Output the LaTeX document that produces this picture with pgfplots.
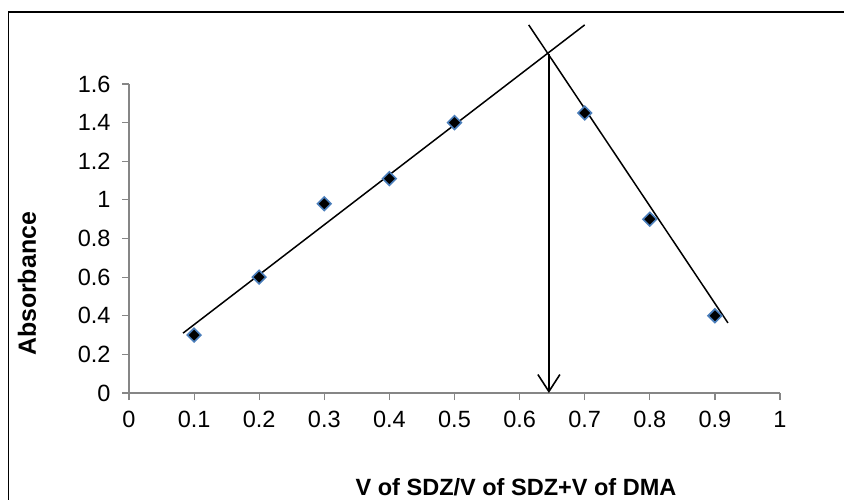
\documentclass[border=0pt]{standalone}
\usepackage{fontspec}
\setmainfont{Liberation Sans}
\usepackage{pgfplots}
\pgfplotsset{compat=1.18}
\usetikzlibrary{arrows.meta}
\definecolor{axgray}{HTML}{868686}
\definecolor{mkblue}{HTML}{4A7EBB}
\begin{document}
\begin{tikzpicture}
\useasboundingbox (0bp,0bp) rectangle (844bp,500bp);
\draw[line width=1.6bp] (8.5bp,0bp) -- (8.5bp,488bp) -- (844bp,488bp);
\begin{axis}[
  at={(129bp,107bp)}, anchor=south west,
  scale only axis, width=651bp, height=309bp,
  xmin=0, xmax=1, ymin=0, ymax=1.6,
  clip=false,
  axis x line=bottom, axis y line=left,
  axis line style={draw=axgray, line width=1.2bp, -},
  xtick={0,0.1,0.2,0.3,0.4,0.5,0.6,0.7,0.8,0.9,1},
  ytick={0,0.2,0.4,0.6,0.8,1,1.2,1.4,1.6},
  tick align=outside, major tick length=7bp,
  tick style={draw=axgray, line width=1.2bp},
  /pgf/number format/assume math mode=true,
  /pgf/number format/fixed,
  ticklabel style={font=\fontsize{23.6}{28}\selectfont, text=black},
  xticklabel style={yshift=-8bp},
  yticklabel style={xshift=-8bp},
]
\addplot[only marks, mark=square*, mark size=4.8bp,
  mark options={fill=black, draw=mkblue, line width=1.6bp, rotate=45}]
  coordinates {(0.1,0.3) (0.2,0.6) (0.3,0.98) (0.4,1.11) (0.5,1.4) (0.7,1.45) (0.8,0.9) (0.9,0.4)};
\addplot[black, line width=1.5bp, no marks] coordinates {(0.083,0.31) (0.700,1.906)};
\addplot[black, line width=1.5bp, no marks] coordinates {(0.614,1.906) (0.920,0.363)};
\addplot[black, line width=1.6bp, no marks, -{Straight Barb[length=17bp,width=22bp,line width=1.6bp]}] coordinates {(0.645,1.756) (0.645,0)};
\end{axis}
\node[font=\fontsize{23.6}{28}\selectfont\bfseries, anchor=base] at (516bp,4.5bp) {V of SDZ/V of SDZ+V of DMA};
\node[font=\fontsize{25}{30}\selectfont\bfseries, rotate=90, anchor=center] at (27bp,216bp) {Absorbance};
\end{tikzpicture}
\end{document}
